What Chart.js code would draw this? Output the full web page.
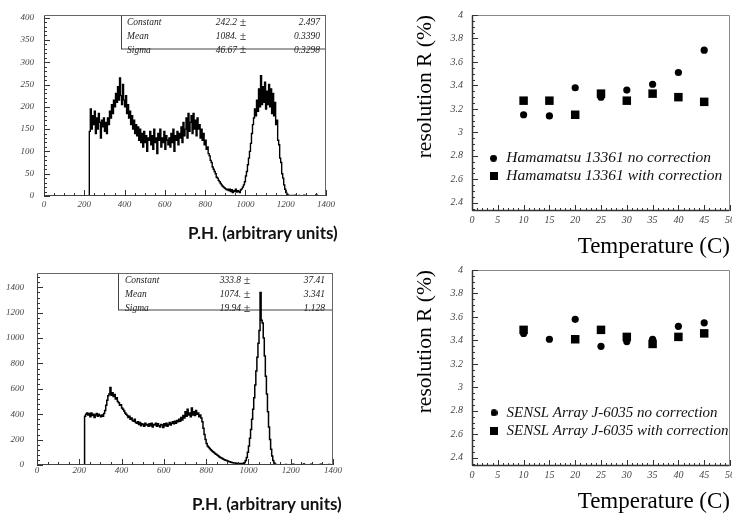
<!DOCTYPE html>
<html>
<head>
<meta charset="utf-8">
<script src="https://cdn.jsdelivr.net/npm/chart.js@4.4.1/dist/chart.umd.min.js"></script>
<style>
html, body { margin: 0; padding: 0; background: #fff; overflow: hidden; width: 732px; height: 519px; }
canvas { position: absolute; }
</style>
</head>
<body>
<canvas id="tl" width="345" height="250" style="left:0px;top:0px;width:345px;height:250px"></canvas>
<canvas id="bl" width="345" height="264" style="left:0px;top:255px;width:345px;height:264px"></canvas>
<canvas id="tr" width="380" height="262" style="left:360px;top:0px;width:380px;height:262px"></canvas>
<canvas id="br" width="380" height="264" style="left:360px;top:255px;width:380px;height:264px"></canvas>
<script>
// ---------------- DATA ----------------
const binWidth = 5;
const hamaBinStart = 220;
const hamaCounts = [
  0, 145, 195, 150, 180, 160, 190, 140, 175, 150, 185, 165, 130, 170, 155, 175, 145, 165, 140, 175,
  160, 190, 175, 205, 185, 215, 200, 230, 210, 245, 215, 265, 225, 205, 250, 215, 200, 225, 185, 205,
  175, 190, 160, 180, 150, 170, 140, 160, 135, 155, 125, 150, 120, 140, 110, 145, 120, 135, 100, 130,
  125, 145, 115, 135, 105, 150, 120, 130, 95, 140, 125, 150, 110, 130, 120, 145, 105, 135, 125, 115,
  130, 110, 140, 120, 150, 100, 135, 125, 145, 115, 140, 130, 155, 120, 165, 135, 150, 175, 130, 185,
  145, 165, 180, 140, 185, 150, 170, 135, 175, 150, 160, 130, 150, 125, 140, 115, 125, 105, 110, 95,
  90, 80, 75, 65, 60, 55, 50, 42, 40, 35, 32, 28, 25, 22, 20, 18, 16, 14, 15, 12,
  15, 10, 14, 8, 12, 10, 15, 9, 12, 10, 8, 14, 16, 20, 25, 32, 45, 55, 70, 85,
  100, 118, 140, 160, 175, 195, 180, 215, 190, 240, 200, 270, 205, 245, 210, 255, 195, 235, 205, 250,
  200, 240, 185, 230, 180, 210, 160, 170, 125, 115, 85, 75, 50, 40, 25, 15, 8, 4, 2, 1,
  0, 0, 1, 0, 0, 2, 0, 0, 0, 1, 0, 0, 0, 0, 2, 0, 0, 0, 0, 0,
  0, 0, 0, 0, 0, 0, 3, 0, 0, 0, 0, 0, 0, 0, 0, 0
];
const senslBinStart = 220;
const senslCounts = [
  0, 385, 400, 410, 395, 405, 380, 410, 390, 400, 375, 395, 405, 385, 400, 390, 380, 395, 385, 405,
  430, 470, 510, 545, 560, 610, 550, 570, 540, 555, 520, 530, 500, 490, 470, 475, 450, 440, 425, 410,
  400, 390, 375, 385, 360, 370, 350, 345, 360, 335, 330, 340, 320, 335, 310, 325, 320, 305, 330, 315,
  320, 305, 325, 310, 330, 300, 320, 315, 330, 305, 325, 310, 300, 320, 315, 295, 325, 310, 330, 305,
  320, 335, 315, 330, 340, 325, 345, 330, 350, 340, 360, 345, 375, 355, 390, 370, 420, 385, 440, 395,
  410, 380, 450, 395, 420, 390, 430, 400, 410, 380, 395, 370, 340, 290, 240, 200, 170, 150, 140, 130,
  120, 112, 105, 98, 90, 85, 78, 72, 66, 60, 55, 52, 46, 42, 38, 35, 32, 28, 26, 22,
  20, 18, 16, 15, 12, 14, 10, 12, 9, 12, 11, 14, 20, 35, 60, 100, 150, 210, 280, 360,
  440, 530, 630, 740, 850, 960, 1060, 1360, 1140, 1120, 1000, 860, 700, 560, 420, 300, 200, 125, 70, 35,
  15, 6, 2, 0, 0, 1, 0, 0, 0, 0, 0, 3, 0, 0, 0, 0, 0, 0, 6, 0,
  0, 0, 0, 0, 0, 0, 0, 0, 8, 0, 0, 0, 0, 0, 0, 5, 0, 0, 0, 0,
  0, 0, 0, 0, 6, 0, 0, 0, 0, 0, 0, 0, 4, 0, 0, 0
];

const statLabels = ['Constant', 'Mean', 'Sigma'];
const hamaStatValues = ['242.2', '1084.', '46.67'];
const hamaStatErrors = ['2.497', '0.3390', '0.3298'];
const senslStatValues = ['333.8', '1074.', '19.94'];
const senslStatErrors = ['37.41', '3.341', '1.128'];

const temperatures = [10, 15, 20, 25, 30, 35, 40, 45];
const hamaNoCorr   = [3.15, 3.14, 3.38, 3.30, 3.36, 3.41, 3.51, 3.70];
const hamaWithCorr = [3.27, 3.27, 3.15, 3.33, 3.27, 3.33, 3.30, 3.26];
const senslNoCorr   = [3.46, 3.41, 3.58, 3.35, 3.39, 3.41, 3.52, 3.55];
const senslWithCorr = [3.49, null, 3.41, 3.49, 3.43, 3.37, 3.43, 3.46];

const hamaLabels = ['Hamamatsu 13361 no correction', 'Hamamatsu 13361 with correction'];
const senslLabels = ['SENSL Array J-6035 no correction', 'SENSL Array J-6035 with correction'];
const phTitle = 'P.H. (arbitrary units)';
const tempTitle = 'Temperature (C)';
const resTitle = 'resolution R (%)';

// ---------------- HELPERS ----------------
function histPoints(start, width, counts) {
  const pts = counts.map((c, i) => ({ x: start + i * width, y: c }));
  pts.push({ x: start + counts.length * width, y: counts[counts.length - 1] });
  return pts;
}
function pairs(xs, ys) { return xs.map((x, i) => ({ x: x, y: ys[i] })); }

function eachStep(min, max, step, fn) {
  const k0 = Math.ceil(min / step - 1e-9), k1 = Math.floor(max / step + 1e-9);
  for (let k = k0; k <= k1; k++) fn(k * step);
}
const isMajor = (v, major) => Math.abs(v / major - Math.round(v / major)) < 1e-6;

const rootTicks = {
  id: 'rootTicks',
  afterDatasetsDraw(chart, args, o) {
    if (!o || !o.x) return;
    const { ctx, chartArea: a, scales } = chart;
    const xs = scales.x, ys = scales.y;
    ctx.save();
    ctx.strokeStyle = o.color; ctx.lineWidth = 1;
    ctx.beginPath();
    eachStep(xs.min, xs.max, o.x.minor, v => {
      const len = isMajor(v, o.x.major) ? o.x.majorLen : o.x.minorLen;
      const px = Math.round(xs.getPixelForValue(v)) + 0.5;
      ctx.moveTo(px, a.bottom); ctx.lineTo(px, a.bottom - len);
    });
    eachStep(ys.min, ys.max, o.y.minor, v => {
      const len = isMajor(v, o.y.major) ? o.y.majorLen : o.y.minorLen;
      const py = Math.round(ys.getPixelForValue(v)) + 0.5;
      ctx.moveTo(a.left, py); ctx.lineTo(a.left + len, py);
    });
    ctx.stroke();
    ctx.restore();
  }
};

const frame = {
  id: 'frame',
  afterDatasetsDraw(chart, args, o) {
    if (!o || !o.sides) return;
    const { ctx, chartArea: a } = chart;
    const L = Math.round(a.left) + 0.5, R = Math.round(a.right) - 0.5;
    const T = Math.round(a.top) + 0.5, B = Math.round(a.bottom) - 0.5;
    const segs = {
      top: [L, T, R, T], right: [R, T, R, B], bottom: [L, B, R, B], left: [L, T, L, B]
    };
    ctx.save();
    Object.keys(segs).forEach(k => {
      const s = o.sides[k]; const p = segs[k];
      ctx.strokeStyle = s.color; ctx.lineWidth = s.width;
      ctx.beginPath(); ctx.moveTo(p[0], p[1]); ctx.lineTo(p[2], p[3]); ctx.stroke();
    });
    ctx.restore();
  }
};

const statsBox = {
  id: 'statsBox',
  beforeDatasetsDraw(chart, args, o) {
    if (!o || !o.labels) return;
    const { ctx, chartArea: a } = chart;
    const top = Math.round(a.top) + 0.5, right = Math.round(a.right) - 0.5;
    ctx.save();
    ctx.strokeStyle = '#444'; ctx.lineWidth = 1;
    ctx.strokeRect(o.left + 0.5, top, right - o.left - 0.5, o.bottom - top);
    ctx.fillStyle = '#222';
    ctx.textBaseline = 'middle';
    o.labels.forEach((lab, i) => {
      const y = top + o.rows[i];
      ctx.font = 'italic 9.5px "Liberation Serif"';
      ctx.textAlign = 'left'; ctx.fillText(lab, o.labelX, y);
      ctx.textAlign = 'right'; ctx.fillText(o.values[i], o.valueX, y);
      ctx.fillText(o.errors[i], o.errorX, y);
      ctx.font = '12px "Liberation Serif"';
      ctx.textAlign = 'center'; ctx.fillText('\u00B1', o.pmX, y);
    });
    ctx.restore();
  }
};

const caption = {
  id: 'caption',
  afterDraw(chart, args, o) {
    if (!o || !o.text) return;
    const ctx = chart.ctx;
    ctx.save();
    ctx.font = o.font; ctx.fillStyle = o.color;
    ctx.textBaseline = 'middle'; ctx.textAlign = 'left';
    ctx.fillText(o.text, o.x, o.y);
    ctx.restore();
  }
};

const legendPlace = {
  id: 'legendPlace',
  afterLayout(chart, args, o) {
    const lg = chart.legend;
    if (!lg || !o) return;
    lg.left = chart.chartArea.left + o.dx;
    lg.top = chart.chartArea.top + o.dy;
    lg.right = chart.width;
    lg.bottom = chart.chartArea.bottom;
  }
};

function markCanvas(kind, size) {
  const c = document.createElement('canvas');
  c.width = size; c.height = size;
  const g = c.getContext('2d');
  g.fillStyle = '#000';
  if (kind === 'circle') { g.beginPath(); g.arc(size / 2, size / 2, size / 2, 0, Math.PI * 2); g.fill(); }
  else { g.fillRect(0, 0, size, size); }
  return c;
}
const legendMarks = [markCanvas('circle', 7), markCanvas('rect', 8)];

const tick9 = { family: 'Liberation Serif', style: 'italic', size: 9 };
const tick10 = { family: 'Liberation Serif', style: 'italic', size: 10 };
const asText = v => String(v);

// ---------------- HISTOGRAMS ----------------
function histChart(id, start, counts, g) {
  return new Chart(document.getElementById(id), {
    type: 'line',
    data: { datasets: [{
      data: histPoints(start, binWidth, counts),
      stepped: true, borderColor: '#000', borderWidth: g.lineWidth,
      pointRadius: 0, fill: false
    }] },
    options: {
      responsive: false, animation: false, events: [],
      layout: { padding: { left: 0, top: g.top, right: g.right, bottom: 0 } },
      plugins: {
        legend: { display: false }, tooltip: { enabled: false },
        statsBox: g.stats,
        frame: { sides: {
          top: { color: '#666', width: 1 }, right: { color: '#666', width: 1 },
          bottom: { color: '#444', width: 1 }, left: { color: '#444', width: 1 } } },
        rootTicks: { color: '#333',
          x: { minor: 50, major: 200, minorLen: 3, majorLen: 6 },
          y: { minor: g.yMinor, major: g.yMajor, minorLen: 3, majorLen: 6 } },
        caption: { text: phTitle, x: g.capX, y: g.capY, font: 'bold 17px Lato', color: '#111' }
      },
      scales: {
        x: { type: 'linear', min: 0, max: 1400,
          grid: { display: false, drawTicks: false }, border: { display: false },
          ticks: { stepSize: 200, includeBounds: false, padding: g.xPad, font: tick9, color: '#444',
                   maxRotation: 0, autoSkip: false, callback: asText },
          afterFit: s => { s.height = g.xh; } },
        y: { type: 'linear', min: 0, max: g.ymax,
          grid: { display: false, drawTicks: false }, border: { display: false },
          ticks: { stepSize: g.yMajor, includeBounds: false, padding: g.yPad, font: tick9, color: '#444',
                   autoSkip: false, callback: asText },
          afterFit: s => { s.width = g.yw; } }
      }
    },
    plugins: [statsBox, frame, rootTicks, caption]
  });
}

histChart('tl', hamaBinStart, hamaCounts, {
  lineWidth: 1.4, top: 8, right: 19, xh: 54, yw: 44, ymax: 405, yMajor: 50, yMinor: 10,
  xPad: 3, yPad: 10, capX: 188, capY: 234,
  stats: { labels: statLabels, values: hamaStatValues, errors: hamaStatErrors,
           left: 121, bottom: 49, rows: [7, 21, 34.5], labelX: 127, valueX: 237, pmX: 243, errorX: 320 }
});

histChart('bl', senslBinStart, senslCounts, {
  lineWidth: 1.5, top: 12, right: 12, xh: 54, yw: 37, ymax: 1510, yMajor: 200, yMinor: 40,
  xPad: 0, yPad: 13, capX: 192, capY: 250,
  stats: { labels: statLabels, values: senslStatValues, errors: senslStatErrors,
           left: 118, bottom: 55, rows: [7, 21, 35], labelX: 125, valueX: 241, pmX: 247, errorX: 325 }
});

// ---------------- RESOLUTION vs TEMPERATURE ----------------
function resChart(id, labels, noCorr, withCorr, g) {
  return new Chart(document.getElementById(id), {
    type: 'scatter',
    data: { datasets: [
      { label: labels[0], data: pairs(temperatures, noCorr), pointStyle: 'circle', pointRadius: 3.6,
        backgroundColor: '#000', borderColor: '#000', borderWidth: 0 },
      { label: labels[1], data: pairs(temperatures, withCorr), pointStyle: 'rect', pointRadius: 6,
        backgroundColor: '#000', borderColor: '#000', borderWidth: 0 }
    ] },
    options: {
      responsive: false, animation: false, events: [],
      layout: { padding: { left: 0, top: g.top, right: 10, bottom: 0 } },
      plugins: {
        tooltip: { enabled: false },
        legend: { display: true, position: 'chartArea', fullSize: false, align: 'start',
          labels: { usePointStyle: true, boxWidth: 10, boxHeight: 8, padding: 18 - g.legendFont, color: '#111',
            font: { family: 'Liberation Serif', style: 'italic', size: g.legendFont },
            generateLabels(chart) {
              const items = Chart.defaults.plugins.legend.labels.generateLabels(chart);
              items.forEach((it, i) => { it.pointStyle = legendMarks[i]; });
              return items;
            } } },
        legendPlace: { dx: 14, dy: g.legendDy },
        frame: { sides: {
          top: { color: '#888', width: 1 }, right: { color: '#888', width: 1 },
          bottom: { color: '#333', width: 1.5 }, left: { color: '#333', width: 1.5 } } },
        rootTicks: { color: '#333',
          x: { minor: 1, major: 5, minorLen: 3, majorLen: 6 },
          y: { minor: 0.05, major: 0.2, minorLen: 3, majorLen: 6 } }
      },
      scales: {
        x: { type: 'linear', min: 0, max: 50,
          grid: { display: false, drawTicks: false }, border: { display: false },
          ticks: { stepSize: 5, padding: 3, font: tick10, color: '#444', maxRotation: 0, autoSkip: false, callback: asText },
          title: { display: true, text: tempTitle, align: 'end', color: '#000',
                   font: { family: 'Liberation Serif', size: 23 }, padding: { top: 0, bottom: g.xTitlePad } },
          afterFit: s => { s.height = g.xh; } },
        y: { type: 'linear', min: 2.33, max: 4.0,
          grid: { display: false, drawTicks: false }, border: { display: false },
          ticks: { stepSize: 0.2, includeBounds: false, padding: 9, font: tick10, color: '#444', autoSkip: false, callback: asText },
          title: { display: true, text: resTitle, align: 'end', color: '#000',
                   font: { family: 'Liberation Serif', size: 21.5 }, padding: { top: 52, bottom: 0 } },
          afterFit: s => { s.width = 112; } }
      }
    },
    plugins: [frame, rootTicks, legendPlace]
  });
}

resChart('tr', hamaLabels, hamaNoCorr, hamaWithCorr, { top: 11, xh: 51, xTitlePad: 1.2, legendDy: 133, legendFont: 15.5 });
resChart('br', senslLabels, senslNoCorr, senslWithCorr, { top: 12, xh: 53, xTitlePad: 3.2, legendDy: 132.3, legendFont: 15 });
</script>
</body>
</html>
